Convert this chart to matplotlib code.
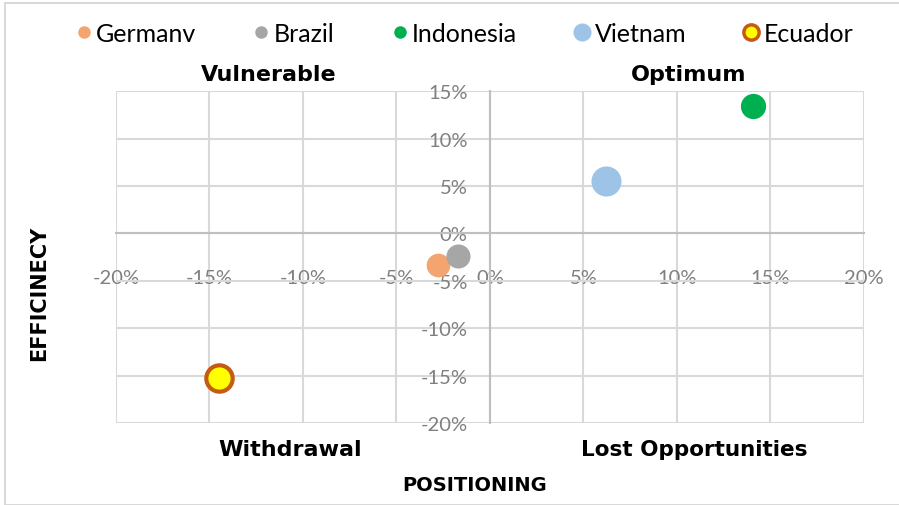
import numpy as np
import matplotlib.pyplot as plt
from matplotlib.lines import Line2D
from matplotlib.patches import Rectangle
from matplotlib.ticker import FuncFormatter

plt.rcParams['font.family'] = ['Lato', 'DejaVu Sans']

countries = ['Germanv', 'Brazil', 'Indonesia', 'Vietnam', 'Ecuador']
positioning = [-2.8, -1.7, 14.05, 6.2, -14.5]   # %
efficiency = [-3.3, -2.4, 13.45, 5.5, -15.2]     # %

colors = ['#F4A46E', '#A6A6A6', '#00B050', '#9DC3E6', '#FFFF00']
edges = ['#F4A46E', '#A6A6A6', '#00B050', '#9DC3E6', '#C55A11']
sizes = [290, 300, 330, 470, 360]
edge_w = [0, 0, 0, 0, 3]
legend_ms = [9, 9, 9, 13, 11]

xticks = [-20, -15, -10, -5, 0, 5, 10, 15, 20]
yticks = [-20, -15, -10, -5, 0, 5, 10, 15]

fig = plt.figure(figsize=(8.99, 5.06), dpi=100)
ax = fig.add_axes([0.129, 0.162, 0.832, 0.656])

for i in range(len(countries)):
    ax.scatter(positioning[i], efficiency[i], s=sizes[i], c=colors[i],
               edgecolors=edges[i], linewidths=edge_w[i], zorder=3)

ax.set_xlim(-20, 20)
ax.set_ylim(-20, 15)
ax.set_xticks(xticks)
ax.set_yticks(yticks)
pct = FuncFormatter(lambda v, p: f'{v:.0f}%')
ax.xaxis.set_major_formatter(pct)
ax.yaxis.set_major_formatter(pct)
ax.grid(True, color='#D9D9D9', linewidth=1.5, zorder=0)
ax.set_axisbelow(True)

for s in ['top', 'right']:
    ax.spines[s].set_visible(False)
ax.spines['left'].set_position(('data', 0))
ax.spines['bottom'].set_position(('data', 0))
for s in ['left', 'bottom']:
    ax.spines[s].set_color('#BFBFBF')
    ax.spines[s].set_linewidth(1.5)
ax.tick_params(axis='both', length=0, labelsize=14.5, labelcolor='#7F7F7F')
ax.tick_params(axis='x', pad=26)
ax.tick_params(axis='y', pad=16)

qstyle = dict(fontsize=16, fontweight='bold', ha='center', va='center',
              color='black', family='DejaVu Sans')
fig.text(269 / 899, 1 - 75 / 506, 'Vulnerable', **qstyle)
fig.text(689 / 899, 1 - 75 / 506, 'Optimum', **qstyle)
fig.text(290 / 899, 1 - 450 / 506, 'Withdrawal', **qstyle)
qstyle['fontsize'] = 15.5
fig.text(694 / 899, 1 - 450 / 506, 'Lost Opportunities', **qstyle)

fig.text(475 / 899, 1 - 486 / 506, 'POSITIONING', fontsize=14, fontweight='bold',
         ha='center', va='center', family='DejaVu Sans')
fig.text(39 / 899, 1 - 293 / 506, 'EFFICINECY', fontsize=15, fontweight='bold',
         ha='center', va='center', rotation=90, family='DejaVu Sans')

handles = [Line2D([], [], linestyle='none', marker='o', markersize=legend_ms[i],
                  markerfacecolor=colors[i], markeredgecolor=edges[i],
                  markeredgewidth=2.5 if edge_w[i] else 0)
           for i in range(len(countries))]
fig.legend(handles, countries, loc='center', bbox_to_anchor=(0.5156, 1 - 34 / 506),
           ncol=5, frameon=False, fontsize=18, handletextpad=0.1, columnspacing=2.2,
           handlelength=0.8)

fig.patches.append(Rectangle((5 / 899, 0), 1, 1 - 4 / 506, transform=fig.transFigure,
                             fill=False, edgecolor='#D9D9D9', linewidth=1.5))

fig.savefig('out.png', dpi=100)
